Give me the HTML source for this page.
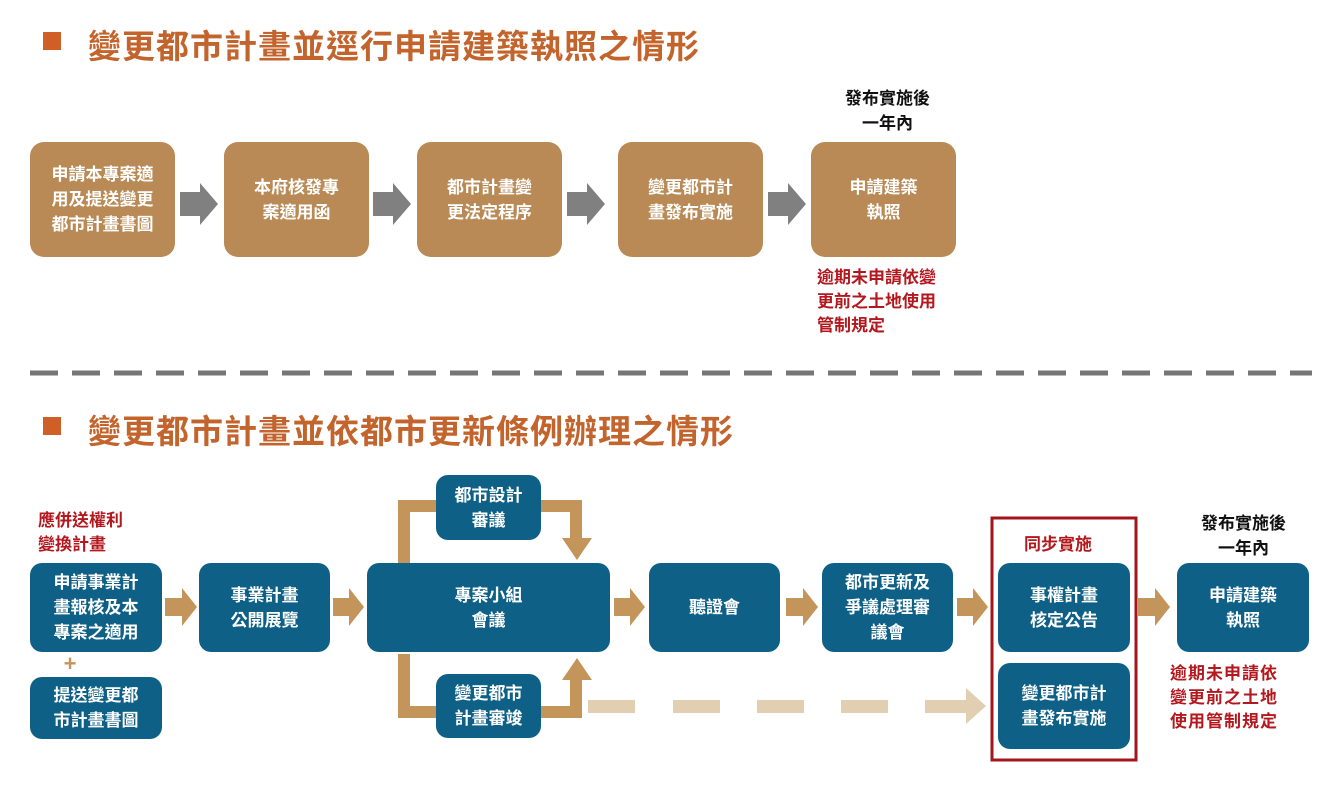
<!DOCTYPE html>
<html><head><meta charset="utf-8"><style>
body{margin:0;width:1344px;height:790px;background:#fff;position:relative;overflow:hidden;font-family:"Liberation Sans","Noto Sans CJK TC",sans-serif;}
.a{position:absolute;}
.t{position:absolute;font-size:33px;font-weight:bold;color:#c4642d;letter-spacing:1px;white-space:nowrap}
.sq{position:absolute;width:18px;height:18px;background:#cf5f26}
.b{position:absolute;display:flex;align-items:center;justify-content:center;text-align:center;color:#fff;font-size:17px;font-weight:bold;line-height:25px;border-radius:14px}
.br{background:#b98a55}
.bl{background:#0e6086;border-radius:12px}
.red{position:absolute;color:#b3181e;font-size:17px;font-weight:bold;line-height:24px;white-space:nowrap}
.blk{position:absolute;color:#111;font-size:17px;font-weight:bold;line-height:25px;text-align:center;white-space:nowrap}
</style></head><body>
<div class="sq" style="left:43px;top:32px"></div>
<div class="t" style="left:88px;top:20px">變更都市計畫並逕行申請建築執照之情形</div>
<div class="sq" style="left:43px;top:417px"></div>
<div class="t" style="left:88px;top:405px">變更都市計畫並依都市更新條例辦理之情形</div>

<svg class="a" style="left:0;top:0" width="1344" height="790">
<line x1="30" y1="373" x2="1312" y2="373" stroke="#767676" stroke-width="5" stroke-dasharray="28 14"/>
<g fill="#808080">
<polygon points="180,192 200,192 200,183 218,204 200,225 200,216 180,216"/>
<polygon points="373,192 393,192 393,183 411,204 393,225 393,216 373,216"/>
<polygon points="567,192 587,192 587,183 605,204 587,225 587,216 567,216"/>
<polygon points="768,192 788,192 788,183 806,204 788,225 788,216 768,216"/>
</g>
<g fill="#c4955a">
<polygon points="165,598 182,598 182,588 197,607 182,626 182,616 165,616"/>
<polygon points="333,598 349,598 349,588 364,607 349,626 349,616 333,616"/>
<polygon points="614,598 630,598 630,588 645,607 630,626 630,616 614,616"/>
<polygon points="786,598 803,598 803,588 818,607 803,626 803,616 786,616"/>
<polygon points="957,598 973,598 973,588 988,607 973,626 973,616 957,616"/>
<polygon points="1138,598 1155,598 1155,588 1170,607 1155,626 1155,616 1138,616"/>
<polygon points="398,566 398,500 436,500 436,512 410,512 410,566"/>
<polygon points="541,500 582,500 582,538 592,538 577,560 562,538 570,538 570,512 541,512"/>
<polygon points="398,654 398,718 436,718 436,706 410,706 410,654"/>
<polygon points="541,718 582,718 582,680 592,680 577,658 562,680 570,680 570,706 541,706"/>
</g>
<g fill="#e2ceb0">
<rect x="588" y="700" width="47" height="13"/>
<rect x="673" y="700" width="47" height="13"/>
<rect x="757" y="700" width="47" height="13"/>
<rect x="841" y="700" width="47" height="13"/>
<polygon points="925,700 966,700 966,688 986,706 966,724 966,713 925,713"/>
</g>
<rect x="992" y="518" width="144" height="242" fill="none" stroke="#a4161c" stroke-width="3"/>
<text x="70" y="671" text-anchor="middle" fill="#c4955a" font-size="22" font-weight="bold" font-family="Liberation Sans">+</text>
</svg>

<div class="b br" style="left:30px;top:142px;width:145px;height:115px">申請本專案適<br>用及提送變更<br>都市計畫書圖</div>
<div class="b br" style="left:224px;top:142px;width:145px;height:115px">本府核發專<br>案適用函</div>
<div class="b br" style="left:417px;top:142px;width:145px;height:115px">都市計畫變<br>更法定程序</div>
<div class="b br" style="left:618px;top:142px;width:145px;height:115px">變更都市計<br>畫發布實施</div>
<div class="b br" style="left:811px;top:142px;width:145px;height:115px">申請建築<br>執照</div>
<div class="blk" style="left:820px;top:86px;width:135px">發布實施後<br>一年內</div>
<div class="red" style="left:817px;top:266px">逾期未申請依變<br>更前之土地使用<br>管制規定</div>

<div class="red" style="left:38px;top:509px">應併送權利<br>變換計畫</div>
<div class="b bl" style="left:30px;top:563px;width:132px;height:89px">申請事業計<br>畫報核及本<br>專案之適用</div>
<div class="b bl" style="left:30px;top:677px;width:132px;height:62px">提送變更都<br>市計畫書圖</div>
<div class="b bl" style="left:199px;top:563px;width:131px;height:89px">事業計畫<br>公開展覽</div>
<div class="b bl" style="left:367px;top:563px;width:243px;height:89px">專案小組<br>會議</div>
<div class="b bl" style="left:436px;top:475px;width:105px;height:65px">都市設計<br>審議</div>
<div class="b bl" style="left:436px;top:674px;width:105px;height:64px">變更都市<br>計畫審竣</div>
<div class="b bl" style="left:649px;top:563px;width:131px;height:89px">聽證會</div>
<div class="b bl" style="left:822px;top:563px;width:131px;height:89px">都市更新及<br>爭議處理審<br>議會</div>
<div class="b bl" style="left:998px;top:563px;width:132px;height:89px">事權計畫<br>核定公告</div>
<div class="b bl" style="left:998px;top:663px;width:132px;height:86px">變更都市計<br>畫發布實施</div>
<div class="b bl" style="left:1177px;top:563px;width:132px;height:89px">申請建築<br>執照</div>
<div class="red" style="left:1024px;top:533px">同步實施</div>
<div class="blk" style="left:1176px;top:511px;width:135px">發布實施後<br>一年內</div>
<div class="red" style="left:1170px;top:662px;letter-spacing:1px">逾期未申請依<br>變更前之土地<br>使用管制規定</div>
</body></html>
